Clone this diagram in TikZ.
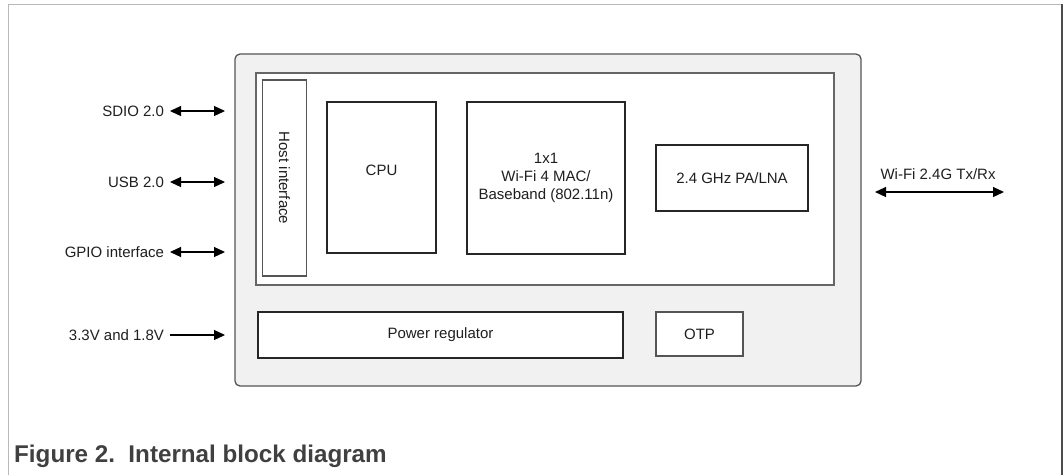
\documentclass[tikz,border=0pt]{standalone}
\usepackage{fontspec}
\setmainfont{Liberation Sans}
\usetikzlibrary{arrows.meta}
\definecolor{chipgray}{HTML}{F1F1F1}
\definecolor{edgegray}{HTML}{555555}
\definecolor{captiongray}{HTML}{404040}

\begin{document}
\begin{tikzpicture}[x=1pt,y=-1pt,
  every node/.style={font=\fontsize{15}{18}\selectfont, text=black!88, align=center},
  blk/.style={draw=black!85, line width=1.1pt, fill=white, inner sep=0pt},
  pin/.style={anchor=east, inner sep=3pt, outer sep=3pt},
  both/.style={line width=1.2pt, {Triangle[length=11pt,width=10pt]}-{Triangle[length=11pt,width=10pt]}},
  into/.style={line width=1.2pt, -{Triangle[length=11pt,width=10pt]}}]
  \useasboundingbox (0,0) rectangle (1064,475);

  % page frame
  \draw [gray!55, line width=1pt] (8,475) -- (8,4) -- (1062,4);
  \draw [black!70, line width=1.3pt] (1062,4) -- (1062,475);

  % chip
  \node [draw=edgegray, line width=1.3pt, fill=chipgray, rounded corners=5pt,
         minimum width=626pt, minimum height=332pt, inner sep=0pt] (chip) at (548,220) {};
  \node [draw=black!60, line width=1.5pt, fill=white, minimum width=578pt,
         minimum height=212pt, inner sep=0pt] (core) at (545,179) {};

  % blocks
  \node [blk, draw=edgegray, rotate=-90, minimum width=196pt, minimum height=44.5pt] (host) at (284.5,178) {Host interface};
  \node [blk, minimum width=109pt, minimum height=151pt, label={[yshift=7pt]center:CPU}] (cpu) at (381.5,177.5) {};
  \node [blk, minimum width=158pt, minimum height=152pt] (mac) at (546,178) {1x1\\Wi-Fi 4 MAC/\\Baseband (802.11n)};
  \node [blk, minimum width=152pt, minimum height=66pt] (pa) at (732,178) {2.4 GHz PA/LNA};
  \node [blk, minimum width=365pt, minimum height=46pt] (pwr) at (440.5,335) {Power regulator};
  \node [blk, draw=edgegray, minimum width=87pt, minimum height=44pt] (otp) at (699.5,334) {OTP};

  % external signals
  \node [pin] (sdio) at (170,111) {SDIO 2.0};
  \node [pin] (usb) at (170,182) {USB 2.0};
  \node [pin] (gpio) at (170,252) {GPIO interface};
  \node [pin] (vin) at (170,335) {3.3V and 1.8V};
  \coordinate (sdioend) at (225,111);
  \coordinate (usbend) at (225,182);
  \coordinate (gpioend) at (225,252);
  \coordinate (vinend) at (225,335);

  \draw [both] (sdio) to (sdioend);
  \draw [both] (usb) to (usbend);
  \draw [both] (gpio) to (gpioend);
  \draw [into] (vin) to (vinend);

  \coordinate (rfin) at (875,192);
  \coordinate (rfout) at (1004,192);
  \node (rf) at (938,174) {Wi-Fi 2.4G Tx/Rx};
  \draw [both] (rfin) to (rfout);

  % caption
  \node [anchor=base west, inner sep=0pt, text=captiongray,
         font=\fontsize{24.2}{28}\selectfont\bfseries] (cap) at (14,462) {Figure 2.\ \ Internal block diagram};
\end{tikzpicture}
\end{document}
